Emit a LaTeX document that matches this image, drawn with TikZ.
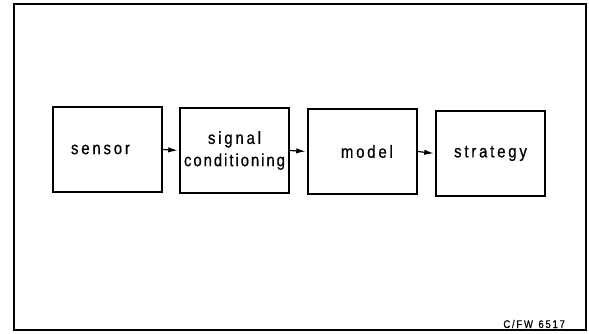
\documentclass[tikz,border=0pt]{standalone}
\usepackage{fontspec}
\setmainfont{Liberation Sans}
% narrow, spaced lettering for the blocks
\newfontfamily\blockfont[FakeStretch=0.85, FakeBold=0.6, LetterSpace=16]{Liberation Sans}
\newfontfamily\tightfont[FakeStretch=0.85, FakeBold=0.6, LetterSpace=11]{Liberation Sans}
\usetikzlibrary{arrows.meta}

\tikzset{
  block/.style={draw, line width=1.1pt, minimum width=3.27cm, minimum height=2.55cm,
                inner sep=0pt, font=\blockfont\fontsize{15}{17}\selectfont, align=center},
  link/.style={line width=1pt, shorten >=1.5pt, -{Latex[length=8pt,width=4.6pt]}}
}

\begin{document}
\begin{tikzpicture}[x=0.03cm, y=-0.03cm]

  % page size and the outer frame
  \useasboundingbox (0,0) rectangle (589,333);
  \draw[line width=1.1pt] (14,4) rectangle (586,330);

  % the four blocks of the chain
  \node[block] (sensor)   at (107.5,149.5) {sensor\hspace*{0.8em}};
  \node[block] (signal)   at (234.5,150.5) {signal\\[2pt]\tightfont conditioning};
  \node[block] (model)    at (362.5,151.5) {\hspace*{0.5em}model};
  \node[block] (strategy) at (490.5,153.5) {strategy};

  % connections between the blocks
  \draw[link] (sensor.east) -- (signal.west);
  \draw[link] (signal.east) -- (model.west);
  \draw[link] (model.east)  -- (strategy.west);

  % drawing number
  \node[font=\blockfont\fontsize{9.5}{11}\selectfont, anchor=base east] (code) at (569,328) {C/FW\hspace{0.5em}6517};

\end{tikzpicture}
\end{document}
